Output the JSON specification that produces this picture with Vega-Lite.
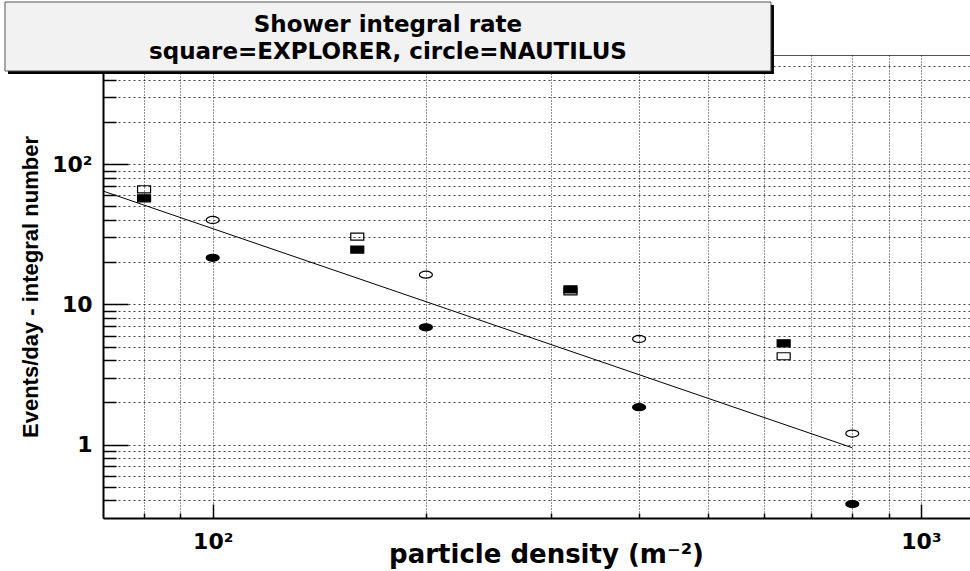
{
  "$schema": "https://vega.github.io/schema/vega-lite/v6.json",
  "width": 874,
  "height": 463,
  "autosize": {"type": "none"},
  "padding": {"left": 103, "top": 55, "right": 0, "bottom": 53},
  "background": "white",
  "config": {"view": {"stroke": "#555555", "strokeWidth": 1}},
  "datasets": {
    "points": [
      {"density": 80, "rate": 66.2, "detector": "EXPLORER", "kind": "open"},
      {"density": 160, "rate": 30.4, "detector": "EXPLORER", "kind": "open"},
      {"density": 320, "rate": 12.4, "detector": "EXPLORER", "kind": "open"},
      {"density": 640, "rate": 4.27, "detector": "EXPLORER", "kind": "open"},
      {"density": 80, "rate": 57.1, "detector": "EXPLORER", "kind": "filled"},
      {"density": 160, "rate": 24.6, "detector": "EXPLORER", "kind": "filled"},
      {"density": 320, "rate": 12.8, "detector": "EXPLORER", "kind": "filled"},
      {"density": 640, "rate": 5.28, "detector": "EXPLORER", "kind": "filled"},
      {"density": 100, "rate": 40.0, "detector": "NAUTILUS", "kind": "open"},
      {"density": 200, "rate": 16.3, "detector": "NAUTILUS", "kind": "open"},
      {"density": 400, "rate": 5.67, "detector": "NAUTILUS", "kind": "open"},
      {"density": 800, "rate": 1.2, "detector": "NAUTILUS", "kind": "open"},
      {"density": 100, "rate": 21.5, "detector": "NAUTILUS", "kind": "filled"},
      {"density": 200, "rate": 6.86, "detector": "NAUTILUS", "kind": "filled"},
      {"density": 400, "rate": 1.85, "detector": "NAUTILUS", "kind": "filled"},
      {"density": 800, "rate": 0.377, "detector": "NAUTILUS", "kind": "filled"}
    ],
    "fit": [
      {"density": 70, "rate": 64.3},
      {"density": 800, "rate": 0.951}
    ],
    "titlebox": [
      {"line1": "Shower integral rate", "line2": "square=EXPLORER, circle=NAUTILUS"}
    ]
  },
  "layer": [
    {
      "data": {"name": "fit"},
      "mark": {"type": "line", "color": "black", "strokeWidth": 1, "clip": true},
      "encoding": {
        "x": {
          "field": "density", "type": "quantitative",
          "scale": {"type": "log", "domain": [70, 1200], "nice": false},
          "axis": {
            "values": [80, 90, 100, 200, 300, 400, 500, 600, 700, 800, 900, 1000],
            "labelExpr": "datum.value == 100 ? '10²' : datum.value == 1000 ? '10³' : ''",
            "labelFont": "DejaVu Sans", "labelFontWeight": "bold", "labelFontSize": 22, "labelColor": "black",
            "labelBaseline": "alphabetic", "labelPadding": 44, "labelOverlap": false, "labelFlush": false,
            "tickSize": {"condition": {"test": "datum.value == 100 || datum.value == 1000", "value": -14}, "value": -5},
            "tickColor": "black", "tickWidth": 1.5,
            "grid": true, "gridColor": "black", "gridDash": [1, 2], "gridOpacity": 0.85, "gridWidth": 1,
            "domainColor": "black", "domainWidth": 2,
            "title": "particle density (m⁻²)",
            "titleFont": "DejaVu Sans", "titleFontWeight": "bold", "titleFontSize": 26, "titleColor": "black",
            "titleX": 443, "titleY": 44, "titleAlign": "center", "titleBaseline": "alphabetic"
          }
        },
        "y": {
          "field": "rate", "type": "quantitative",
          "scale": {"type": "log", "domain": [0.3, 600], "nice": false},
          "axis": {
            "values": [0.4, 0.5, 0.6, 0.7, 0.8, 0.9, 1, 2, 3, 4, 5, 6, 7, 8, 9, 10, 20, 30, 40, 50, 60, 70, 80, 90, 100, 200, 300, 400, 500],
            "labelExpr": "datum.value == 1 ? '1' : datum.value == 10 ? '10' : datum.value == 100 ? '10²' : ''",
            "labelFont": "DejaVu Sans", "labelFontWeight": "bold", "labelFontSize": 22, "labelColor": "black",
            "labelBaseline": "middle", "labelPadding": 36, "labelOverlap": false, "labelFlush": false,
            "tickSize": {"condition": {"test": "datum.value == 1 || datum.value == 10 || datum.value == 100", "value": -25}, "value": -13},
            "tickColor": "black", "tickWidth": 1.5,
            "grid": true, "gridColor": "black", "gridDash": [2, 3], "gridOpacity": 0.75, "gridWidth": 1,
            "domainColor": "black", "domainWidth": 2,
            "title": "Events/day - integral number",
            "titleFont": "Liberation Sans", "titleFontWeight": "bold", "titleFontSize": 22, "titleColor": "black",
            "titleX": -66, "titleY": 231.5, "titleAngle": -90, "titleAlign": "center", "titleBaseline": "alphabetic"
          }
        }
      }
    },
    {
      "data": {"name": "points"},
      "mark": {"type": "point", "filled": true, "opacity": 1, "stroke": "black", "strokeWidth": 1.2, "size": 169},
      "encoding": {
        "x": {"field": "density", "type": "quantitative"},
        "y": {"field": "rate", "type": "quantitative"},
        "shape": {
          "field": "detector", "type": "nominal",
          "scale": {"domain": ["EXPLORER", "NAUTILUS"], "range": ["M-1,-0.54L1,-0.54L1,0.54L-1,0.54Z", "M-1,0A1,0.54,0,1,0,1,0A1,0.54,0,1,0,-1,0Z"]},
          "legend": null
        },
        "fill": {
          "field": "kind", "type": "nominal",
          "scale": {"domain": ["filled", "open"], "range": ["black", "transparent"]},
          "legend": null
        }
      }
    },
    {
      "data": {"name": "titlebox"},
      "mark": {"type": "rect", "fill": "black"},
      "encoding": {"x": {"datum": 51.4}, "x2": {"datum": 620.1}, "y": {"datum": 1363}, "y2": {"datum": 439.2}}
    },
    {
      "data": {"name": "titlebox"},
      "mark": {"type": "rect", "fill": "#f2f2f2", "stroke": "#555555", "strokeWidth": 1},
      "encoding": {"x": {"datum": 50.9}, "x2": {"datum": 614}, "y": {"datum": 1432}, "y2": {"datum": 461.5}}
    },
    {
      "data": {"name": "titlebox"},
      "mark": {"type": "text", "font": "DejaVu Sans", "fontWeight": "bold", "fontSize": 23, "align": "center", "baseline": "alphabetic", "color": "black"},
      "encoding": {"x": {"datum": 176.8}, "y": {"datum": 875.3}, "text": {"field": "line1"}}
    },
    {
      "data": {"name": "titlebox"},
      "mark": {"type": "text", "font": "DejaVu Sans", "fontWeight": "bold", "fontSize": 23, "align": "center", "baseline": "alphabetic", "color": "black"},
      "encoding": {"x": {"datum": 176.8}, "y": {"datum": 561.9}, "text": {"field": "line2"}}
    }
  ]
}
